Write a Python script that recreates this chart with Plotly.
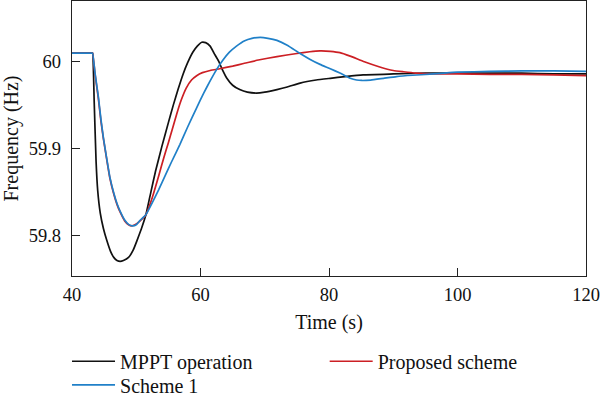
import plotly.graph_objects as go

# ---- data ----
t_mppt = [40, 42.9, 43.1, 43.2, 43.45, 43.75, 44.0, 44.4, 44.9, 45.4, 46.0, 46.5, 47.0, 47.5, 48.0, 48.8, 49.5,
          50.1, 50.8, 51.5, 52.3, 53.0, 54.0, 55.0, 55.8, 56.5, 57.3, 58.0, 58.8, 59.5, 60.2, 60.8,
          61.5, 62.1, 62.8, 63.4, 64.1, 65.0, 66.1, 67.3, 68.7, 70.0, 71.9, 73.5, 75.5, 78.0, 80.2,
          82.5, 85.3, 90, 95, 100, 105, 110, 115, 120]
f_mppt = [60.010, 60.010, 60.010, 60.010, 59.955, 59.885, 59.852, 59.826, 59.808, 59.795, 59.782, 59.775, 59.7715,
          59.7705, 59.7715, 59.775, 59.783, 59.794, 59.808, 59.824, 59.851, 59.874, 59.903, 59.930,
          59.951, 59.968, 59.986, 59.999, 60.011, 60.018, 60.0225, 60.022, 60.018, 60.010, 60.001,
          59.991, 59.981, 59.973, 59.968, 59.965, 59.964, 59.965, 59.968, 59.971, 59.9755, 59.979,
          59.981, 59.983, 59.985, 59.986, 59.987, 59.987, 59.987, 59.987, 59.986, 59.986]

t_prop = [40, 42.9, 43.1, 43.2, 43.6, 44.1, 44.5, 44.9, 45.4, 45.9, 46.5, 47.0, 47.5, 48.2, 48.8, 49.3, 49.8,
          50.6, 51.5, 52.5, 53.5, 54.3, 55.0, 55.6, 56.3, 57.0, 57.8, 58.6, 59.4, 60.3, 61.5, 63.0,
          65.0, 66.7, 69.0, 71.9, 75.0, 77.0, 78.6, 80.2, 81.7, 83.3, 85.5, 87.9, 90, 91.6, 93.5,
          95.7, 100, 105, 110, 115, 120]
f_prop = [60.010, 60.010, 60.010, 60.010, 59.985, 59.958, 59.932, 59.911, 59.888, 59.866, 59.848, 59.836, 59.827,
          59.817, 59.8125, 59.8113, 59.8125, 59.817, 59.824, 59.844, 59.869, 59.890, 59.907, 59.922,
          59.940, 59.956, 59.970, 59.979, 59.984, 59.9875, 59.990, 59.992, 59.995, 59.998, 60.002,
          60.006, 60.0095, 60.0115, 60.0125, 60.012, 60.0105, 60.0065, 60.000, 59.994, 59.990,
          59.9885, 59.987, 59.986, 59.986, 59.9855, 59.9855, 59.985, 59.984]

t_s1 = [40, 42.9, 43.1, 43.2, 43.6, 44.1, 44.5, 44.9, 45.4, 45.9, 46.5, 47.0, 47.5, 48.2, 48.8, 49.4, 50.0,
        50.6, 51.5, 52.5, 53.5, 54.5, 55.5, 56.8, 58.0, 59.4, 60.5, 61.5, 62.5, 63.5, 64.5, 65.6,
        66.8, 68.0, 69.3, 70.5, 71.9, 73.5, 75.5, 77.0, 78.6, 80.2, 81.7, 83.3, 84.3, 85.1, 86.5,
        88.5, 90.5, 93, 95.7, 98, 100, 105, 110, 115, 120]
f_s1 = [60.010, 60.010, 60.010, 60.010, 59.986, 59.960, 59.934, 59.912, 59.889, 59.867, 59.849, 59.837, 59.828,
        59.818, 59.813, 59.8113, 59.8125, 59.8177, 59.824, 59.838, 59.853, 59.869, 59.885, 59.905,
        59.925, 59.947, 59.964, 59.978, 59.991, 60.002, 60.011, 60.018, 60.024, 60.027, 60.028,
        60.027, 60.0246, 60.019, 60.0095, 60.003, 59.997, 59.992, 59.987, 59.981, 59.979, 59.9785,
        59.979, 59.981, 59.983, 59.9845, 59.9857, 59.987, 59.988, 59.989, 59.9895, 59.9895, 59.989]

x_ticks = [40, 60, 80, 100, 120]
y_ticks = [59.8, 59.9, 60.0]
y_ticktext = ["59.8", "59.9", "60"]

FONT = "Liberation Serif"
BLACK = "#111111"
BLUE = "#2080c8"
RED = "#cc1f24"

fig = go.Figure()
fig.add_trace(go.Scatter(x=t_mppt, y=f_mppt, mode="lines", name="MPPT operation",
                         line=dict(color=BLACK, width=1.7, shape="spline", smoothing=0.4),
                         legend="legend", showlegend=True))
fig.add_trace(go.Scatter(x=t_prop, y=f_prop, mode="lines", name="Proposed scheme",
                         line=dict(color=RED, width=1.7, shape="spline", smoothing=0.4),
                         legend="legend3", showlegend=True))
fig.add_trace(go.Scatter(x=t_s1, y=f_s1, mode="lines", name="Scheme 1",
                         line=dict(color=BLUE, width=1.7, shape="spline", smoothing=0.4),
                         legend="legend2", showlegend=True))

axis_common = dict(showline=True, mirror=True, linecolor="#222222", linewidth=1.4,
                   ticks="inside", ticklen=8, tickwidth=1.3, tickcolor="#222222",
                   showgrid=False, zeroline=False, automargin=False,
                   tickfont=dict(family=FONT, size=18.5, color="#111111"))

leg_common = dict(orientation="h", xanchor="left", yanchor="top", itemwidth=43,
                  font=dict(family=FONT, size=20), bgcolor="rgba(0,0,0,0)")

fig.update_layout(
    width=600, height=395,
    showlegend=True,
    margin=dict(l=72, r=14, t=1, b=119, autoexpand=False),
    paper_bgcolor="white", plot_bgcolor="white",
    font=dict(family=FONT, size=20, color="#111111"),
    xaxis=dict(range=[40, 120], tickvals=x_ticks, ticktext=[str(v) for v in x_ticks],
               ticklabelstandoff=2,
               title=dict(text="Time (s)", font=dict(family=FONT, size=20), standoff=10),
               **axis_common),
    yaxis=dict(range=[59.7536, 60.0699], tickvals=y_ticks, ticktext=y_ticktext,
               ticklabelstandoff=6,
               title=dict(text="Frequency (Hz)", font=dict(family=FONT, size=20), standoff=7),
               **axis_common),
    legend=dict(x=-0.0097, y=-0.239, **leg_common),
    legend2=dict(x=-0.0097, y=-0.325, **leg_common),
    legend3=dict(x=0.4916, y=-0.239, **leg_common),
)

fig.write_html("out.html", config={"displayModeBar": False},
               post_script="document.body.style.margin='0px';")
